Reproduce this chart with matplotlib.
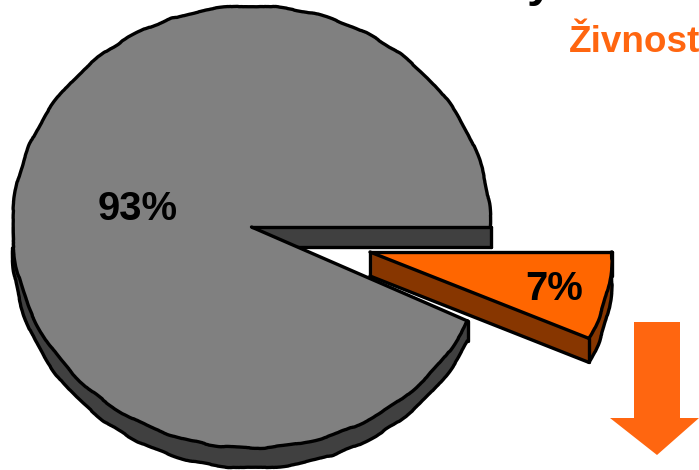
import numpy as np
import matplotlib
matplotlib.use("Agg")
import matplotlib.pyplot as plt
from matplotlib.patches import Polygon

shares = [93, 7]
labels = ["93%", "7%"]
heading = "Živnost"
GREY, GREY_SIDE = "#808080", "#404040"
ORANGE, ORANGE_SIDE = "#FF6600", "#873600"
ARROW = "#FF6610"

W, H = 699, 470
plt.rcParams["font.family"] = ["Liberation Sans", "DejaVu Sans"]
fig = plt.figure(figsize=(W / 100, H / 100), dpi=100)
LW = 2.4


def make_axes(rx, ry):
    """Transparent full-figure axes in which a unit pie is an rx by ry ellipse."""
    a = fig.add_axes([0, 0, 1, 1])
    a.patch.set_alpha(0)
    a._rx, a._ry = rx, ry
    return a


def slice_3d(a, index, centre_px, depth_px, face, side):
    rx, ry = a._rx, a._ry
    px, py = centre_px
    d = depth_px / ry
    for k in np.arange(depth_px, -0.1, -1.0):
        w, _ = a.pie(shares, startangle=0, center=(0, -k / ry),
                     colors=[side, side], frame=True, wedgeprops=dict(linewidth=0))
        w[1 - index].set_visible(False)
    w, _ = a.pie(shares, startangle=0, center=(0, 0), colors=[face, face],
                 frame=True, wedgeprops=dict(linewidth=0, zorder=3))
    w[1 - index].set_visible(False)
    th1, th2 = w[index].theta1, w[index].theta2
    t = np.radians(np.linspace(th1, th2, 300))
    ct, st = np.cos(t), np.sin(t)
    sk = (0.7, 130, 12)
    kw = dict(color="black", lw=LW, solid_capstyle="round", solid_joinstyle="round")
    # top face
    a.plot(ct, st, zorder=4, **kw)[0].set_sketch_params(*sk)
    for c, s in [(ct[0], st[0]), (ct[-1], st[-1])]:
        a.plot([0, c], [0, s], zorder=4, **kw)
    # lower rim: only the part not hidden by the top face
    if index == 0:
        keep = t >= np.pi
        a.plot(ct[keep], st[keep] - d, zorder=2, **kw)[0].set_sketch_params(*sk)
        a.plot([0, 1], [-d, -d], zorder=2, **kw)
        a.plot([1, 1], [0, -d], zorder=2, **kw)
        a.plot([ct[-1]] * 2, [st[-1], st[-1] - d], zorder=2, **kw)
        a.plot([-1, -1], [0, -d], zorder=2, **kw)
    else:
        a.plot(ct, st - d, zorder=2, **kw)[0].set_sketch_params(*sk)
        a.plot([0, ct[0]], [-d, st[0] - d], zorder=2, **kw)
        a.plot([0, 0], [0, -d], zorder=2, **kw)
        a.plot([ct[0]] * 2, [st[0], st[0] - d], zorder=2, **kw)
        a.plot([ct[-1]] * 2, [st[-1], st[-1] - d], zorder=2, **kw)
    a.set_xlim(-px / rx, (W - px) / rx)
    a.set_ylim((py - H) / ry, py / ry)
    a.set_aspect("auto")
    a.axis("off")


ax1 = make_axes(239, 221)
slice_3d(ax1, 0, (251.5, 227), 20, GREY, GREY_SIDE)
ax2 = make_axes(242, 203)
slice_3d(ax2, 1, (370, 252), 24, ORANGE, ORANGE_SIDE)


def place(a, x, y):
    x0, x1 = a.get_xlim()
    y0, y1 = a.get_ylim()
    return x0 + (x1 - x0) * x / W, y1 - (y1 - y0) * y / H


ax2.add_patch(Polygon(
    [place(ax2, x, y) for x, y in [(634, 322), (680, 322), (680, 418), (699, 418),
                                   (657, 455), (610, 418), (634, 418)]],
    closed=True, facecolor=ARROW, edgecolor="none", zorder=6))

fs = 28.8
for (x, y), s in zip([(98, 220), (525, 300)], labels):
    ax2.text(*place(ax2, x, y), s, fontsize=fs, fontweight="bold", color="black",
             ha="left", va="baseline", zorder=7)
ax2.text(*place(ax2, 569, 52), heading, fontsize=26.6, fontweight="bold", color=ARROW,
         ha="left", va="baseline", zorder=7)
ax2.text(*place(ax2, 527, -4), "y", fontsize=34, fontweight="bold", color="black",
         ha="left", va="baseline", zorder=7)

fig.savefig("out.png", dpi=100)
